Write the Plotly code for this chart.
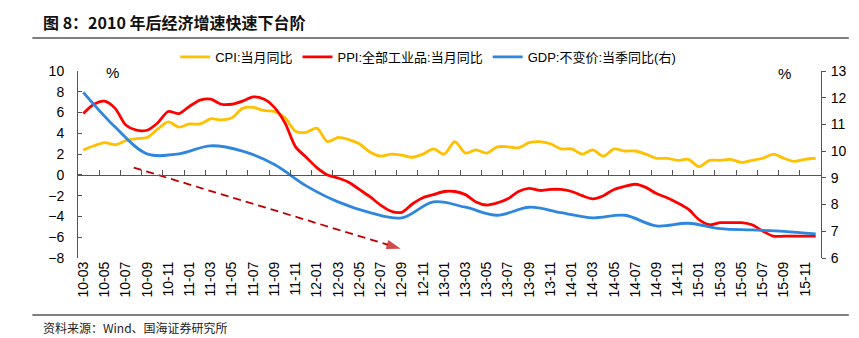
import plotly.graph_objects as go

# ---- data -------------------------------------------------------------
months = [
    "10-03", "10-04", "10-05", "10-06", "10-07", "10-08", "10-09", "10-10", "10-11", "10-12",
    "11-01", "11-02", "11-03", "11-04", "11-05", "11-06", "11-07", "11-08", "11-09", "11-10", "11-11", "11-12",
    "12-01", "12-02", "12-03", "12-04", "12-05", "12-06", "12-07", "12-08", "12-09", "12-10", "12-11", "12-12",
    "13-01", "13-02", "13-03", "13-04", "13-05", "13-06", "13-07", "13-08", "13-09", "13-10", "13-11", "13-12",
    "14-01", "14-02", "14-03", "14-04", "14-05", "14-06", "14-07", "14-08", "14-09", "14-10", "14-11", "14-12",
    "15-01", "15-02", "15-03", "15-04", "15-05", "15-06", "15-07", "15-08", "15-09", "15-10", "15-11", "15-12",
]

# CPI: 当月同比 (%)
cpi = [
    2.4, 2.8, 3.1, 2.9, 3.3, 3.5, 3.6, 4.4, 5.1, 4.6,
    4.9, 4.9, 5.4, 5.3, 5.5, 6.4, 6.5, 6.2, 6.1, 5.5, 4.2, 4.1,
    4.5, 3.2, 3.6, 3.4, 3.0, 2.2, 1.8, 2.0, 1.9, 1.7, 2.0, 2.5,
    2.0, 3.2, 2.1, 2.4, 2.1, 2.7, 2.7, 2.6, 3.1, 3.2, 3.0, 2.5,
    2.5, 2.0, 2.4, 1.8, 2.5, 2.3, 2.3, 2.0, 1.6, 1.6, 1.4, 1.5,
    0.8, 1.4, 1.4, 1.5, 1.2, 1.4, 1.6, 2.0, 1.6, 1.3, 1.5, 1.6,
]

# PPI: 全部工业品 当月同比 (%)
ppi = [
    5.9, 6.8, 7.1, 6.4, 4.8, 4.3, 4.3, 5.0, 6.1, 5.9,
    6.6, 7.2, 7.3, 6.8, 6.8, 7.1, 7.5, 7.3, 6.5, 5.0, 2.7, 1.7,
    0.7, 0.0, -0.3, -0.7, -1.4, -2.1, -2.9, -3.5, -3.6, -2.8, -2.2, -1.9,
    -1.6, -1.6, -1.9, -2.6, -2.9, -2.7, -2.3, -1.6, -1.3, -1.5, -1.4, -1.4,
    -1.6, -2.0, -2.3, -2.0, -1.4, -1.1, -0.9, -1.2, -1.8, -2.2, -2.7, -3.3,
    -4.3, -4.8, -4.6, -4.6, -4.6, -4.8, -5.4, -5.9, -5.9, -5.9, -5.9, -5.9,
]

# GDP: 不变价 当季同比 (%), right axis, plotted at quarter-end months
gdp_quarters = [
    "10-03", "10-06", "10-09", "10-12", "11-03", "11-06", "11-09", "11-12",
    "12-03", "12-06", "12-09", "12-12", "13-03", "13-06", "13-09", "13-12",
    "14-03", "14-06", "14-09", "14-12", "15-03", "15-06", "15-09", "15-12",
]
gdp = [
    12.2, 10.9, 9.9, 9.9, 10.2, 10.0, 9.5, 8.7,
    8.1, 7.7, 7.5, 8.1, 7.9, 7.6, 7.9, 7.7,
    7.5, 7.6, 7.2, 7.3, 7.1, 7.05, 7.0, 6.9,
]

left_ticks = [-8, -6, -4, -2, 0, 2, 4, 6, 8, 10]
right_ticks = [6, 7, 8, 9, 10, 11, 12, 13]

# downward trend arrow (month position, left-axis value)
trend_x = [4.75, 29.9]
trend_y = [0.7, -7.1]

# ---- figure -----------------------------------------------------------
W, H = 859, 338
ML, MR, MT, MB = 78, 32, 71, 80
PW, PH = W - ML - MR, H - MT - MB

def px_x(p):
    return (p - ML) / PW

def px_y(p):
    return (H - MB - p) / PH

xs = list(range(len(months)))
gdp_x = [months.index(q) for q in gdp_quarters]

C_CPI = "#FFC000"
C_PPI = "#FF0000"
C_GDP = "#2E86DE"
C_AX = "#555555"
FONT = "Liberation Sans, Arial, Noto Sans CJK SC, sans-serif"
CJK = "Noto Sans CJK SC, sans-serif"

fig = go.Figure()
fig.add_trace(go.Scatter(
    x=xs, y=cpi, name="CPI:当月同比", mode="lines",
    line=dict(color=C_CPI, width=2.8, shape="spline", smoothing=0.8),
))
fig.add_trace(go.Scatter(
    x=xs, y=ppi, name="PPI:全部工业品:当月同比", mode="lines",
    line=dict(color=C_PPI, width=2.8, shape="spline", smoothing=0.8),
))
fig.add_trace(go.Scatter(
    x=gdp_x, y=gdp, name="GDP:不变价:当季同比(右)", mode="lines", yaxis="y2",
    line=dict(color=C_GDP, width=2.8, shape="spline", smoothing=1.0),
))
fig.add_trace(go.Scatter(
    x=trend_x, y=trend_y, xaxis="x2", mode="lines+markers", showlegend=False,
    line=dict(color="#C00000", width=1.8, dash="8px,5px"),
    marker=dict(symbol=["circle", "arrow"], size=[0, 15], color="#C00000",
                angleref="previous", line=dict(width=0)),
    hoverinfo="skip",
))

fig.update_layout(
    width=W, height=H,
    margin=dict(l=ML, r=MR, t=MT, b=MB),
    paper_bgcolor="white", plot_bgcolor="white",
    font=dict(family=FONT, size=14, color="#000"),
    showlegend=True,
    legend=dict(
        orientation="h", x=px_x(176), y=px_y(57), xanchor="left", yanchor="middle",
        font=dict(family=FONT, size=13, color="#000"),
        bgcolor="rgba(0,0,0,0)", itemwidth=30, tracegroupgap=0,
    ),
    xaxis=dict(
        range=[-0.5, len(months) - 0.5],
        tickmode="array", tickvals=xs[::2], ticktext=months[::2],
        tickangle=-90, ticks="", showline=False, showgrid=False, zeroline=False,
        tickfont=dict(size=14),
    ),
    xaxis2=dict(
        overlaying="x", anchor="free", side="top",
        position=(0 - left_ticks[0]) / (left_ticks[-1] - left_ticks[0]),
        range=[-0.5, len(months) - 0.5],
        tickmode="array", tickvals=[v + 1.5 for v in xs[::2]][:-1],
        showticklabels=False, ticks="outside", ticklen=5, tickcolor=C_AX, tickwidth=1,
        showline=True, linecolor=C_AX, linewidth=1, showgrid=False, zeroline=False,
    ),
    yaxis=dict(
        range=[left_ticks[0], left_ticks[-1]], tickmode="array", tickvals=left_ticks,
        ticks="inside", ticklen=4, tickcolor=C_AX, showline=True, linecolor=C_AX,
        linewidth=1, showgrid=False, zeroline=False, ticklabelstandoff=10,
        tickfont=dict(size=14),
    ),
    yaxis2=dict(
        overlaying="y", side="right",
        range=[right_ticks[0], right_ticks[-1]], tickmode="array", tickvals=right_ticks,
        ticks="outside", ticklen=4, tickcolor=C_AX, showline=True, linecolor=C_AX,
        linewidth=1, showgrid=False, zeroline=False, ticklabelstandoff=2,
        tickfont=dict(size=14),
    ),
)

# unit labels
for ux, uy in ((113, 72), (790, 73)):
    fig.add_annotation(text="%", x=px_x(ux), y=px_y(uy), xref="paper", yref="paper",
                       xanchor="center", yanchor="middle", showarrow=False,
                       font=dict(size=15, family=FONT))

# title and source
fig.add_annotation(text="<b>图 8：2010 年后经济增速快速下台阶</b>",
                   x=px_x(41), y=px_y(22), xref="paper", yref="paper",
                   xanchor="left", yanchor="middle", showarrow=False,
                   font=dict(size=16, family=CJK, color="#111"))
fig.add_annotation(text="资料来源：Wind、国海证券研究所",
                   x=px_x(41), y=px_y(327), xref="paper", yref="paper",
                   xanchor="left", yanchor="middle", showarrow=False,
                   font=dict(size=12, family=CJK, color="#222"))

# header / footer rules
for yy in (38, 315):
    fig.add_shape(type="line", xref="paper", yref="paper",
                  x0=px_x(32), x1=px_x(855), y0=px_y(yy), y1=px_y(yy),
                  line=dict(color="#555", width=1.3))

fig.write_html("out.html")
